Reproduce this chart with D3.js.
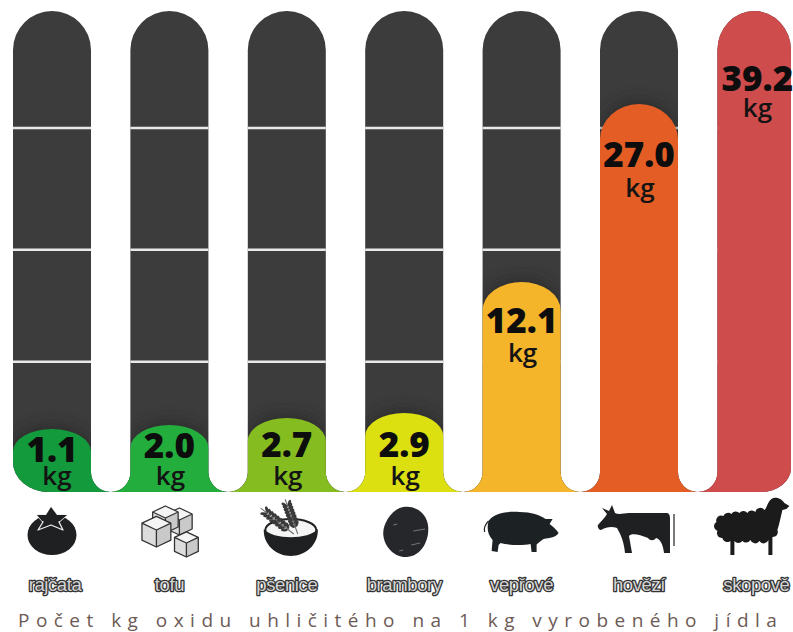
<!DOCTYPE html>
<html>
<head>
<meta charset="utf-8">
<script src="https://cdn.jsdelivr.net/npm/d3@7"></script>
<style>
html,body{margin:0;padding:0;background:#fff;}
svg{display:block;}
</style>
</head>
<body>
<svg id="chart" width="793" height="632"></svg>
<script>
// data
const foods = ['rajčata','tofu','pšenice','brambory','vepřové','hovězí','skopově'];
const values = [1.1,2.0,2.7,2.9,12.1,27.0,39.2];
const colors = ['#129a3c','#22ad3d','#85bc1f','#dce011','#f5b52b','#e35d25','#cf4c4d'];
const gridValues = [6.5,14.8,25];
const title = 'Počet kg oxidu uhličitého na 1 kg vyrobeného jídla';

// the original axis is not linear, stops read off the picture
const scaleStops = [0,1.1,2.0,2.7,2.9,12.1,27.0,39.2];
const scalePixels = [492,429,425,418,413,282,104,11];

// value label baselines, relative to top of each fill
const numDy = [33,33,39,44,51,63,80];
const kgDy = [56,60,67,72,80,93,106];

const plotL = 13, plotR = 791, plotB = 492, plotT = 11;
const svg = d3.select('#chart');
const y = d3.scaleLinear().domain(scaleStops).range(scalePixels);
const x = d3.scaleBand().domain(foods).range([plotL,plotL+7*117.4-39.4]).paddingInner(39.4/117.4);
const bw = x.bandwidth(), gapR = 19.7;

function barW(d){ return Math.min(bw, plotR-x(d)); }

// column with round top, feet flare into the neighbours
function colPath(i, topY, ry){
    let x0 = x(foods[i]), w = barW(foods[i]), x1 = x0+w, rx = w/2;
    let p = `M${x0},${topY+ry} A${rx},${ry} 0 0 1 ${x1},${topY+ry}`;
    if(i==foods.length-1) p += `L${x1},${plotB-24} A30,24 0 0 1 ${x1-30},${plotB}`;
    else p += `L${x1},${plotB-gapR} A${gapR},${gapR} 0 0 0 ${x1+gapR},${plotB}`;
    if(i==0) p += `L${x0+36},${plotB} A36,30 0 0 1 ${x0},${plotB-30}`;
    else p += `L${x0-gapR},${plotB} A${gapR},${gapR} 0 0 0 ${x0},${plotB-gapR}`;
    return p+'Z';
}

let defs = svg.append('defs');
defs.append('filter').attr('id','sh').attr('x','-30%').attr('y','-30%').attr('width','160%').attr('height','160%')
    .append('feGaussianBlur').attr('stdDeviation',7);

foods.forEach((f,i)=>{
    defs.append('clipPath').attr('id','c'+i).append('path').attr('d',colPath(i,plotT,39));
});

let cols = svg.append('g').selectAll('g').data(foods).join('g');
cols.append('path').attr('d',(d,i)=>colPath(i,plotT,39)).attr('fill','#3c3c3c');

// gridlines
cols.each(function(d){
    d3.select(this).selectAll('line').data(gridValues).join('line')
        .attr('x1',x(d)).attr('x2',x(d)+barW(d))
        .attr('y1',v=>y(v)).attr('y2',v=>y(v))
        .attr('stroke','#e9e9e9').attr('stroke-width',2.5);
});

function ryOf(v){ return Math.min(39, 20+(plotB-y(v))*0.04); }

// soft shadow above the fill, stays inside the dark column
cols.append('g').attr('clip-path',(d,i)=>`url(#c${i})`)
    .append('path')
    .attr('d',(d,i)=>colPath(i,y(values[i])-5,ryOf(values[i])))
    .attr('fill','#262626').attr('opacity',(d,i)=>i==6?0:0.6).attr('filter','url(#sh)');

cols.append('path')
    .attr('d',(d,i)=>colPath(i,y(values[i]),ryOf(values[i])))
    .attr('fill',(d,i)=>colors[i]);

// value labels
svg.append('g').selectAll('text').data(values).join('text')
    .attr('x',(d,i)=>x(foods[i])+bw/2-(i==6?-1:0))
    .attr('y',(d,i)=>y(d)+numDy[i])
    .attr('text-anchor','middle')
    .attr('font-family','Open Sans').attr('font-weight',800).attr('font-size',35)
    .attr('fill','#0d0d0d')
    .text(d=>d.toFixed(1));
svg.append('g').selectAll('text').data(values).join('text')
    .attr('x',(d,i)=>x(foods[i])+bw/2+(i==0?5:1))
    .attr('y',(d,i)=>y(d)+kgDy[i])
    .attr('text-anchor','middle')
    .attr('font-family','Open Sans').attr('font-weight',600).attr('font-size',26)
    .attr('fill','#141414')
    .text('kg');

// icons
const ink = '#1f2022';
let icons = svg.append('g').selectAll('g').data(foods).join('g')
    .attr('transform',d=>`translate(${x(d)+bw/2},530)`);

function tomato(g){
    g.append('ellipse').attr('cx',0).attr('cy',5).attr('rx',24.5).attr('ry',20).attr('fill',ink);
    g.append('path').attr('d','M-1,-23 L5,-15 L15,-15 L7,-8 L11,0 L-1,-5 L-14,0 L-9,-8 L-15,-15 L-6,-15Z')
        .attr('fill',ink).attr('stroke','#eee').attr('stroke-width',1.3).attr('stroke-linejoin','round');
    g.append('path').attr('d','M-1,-23 L5,-15 L15,-15 L8,-9 L-10,-9 L-15,-15 L-6,-15Z').attr('fill',ink);
}
function cube(g,cx,cy,s){
    let dx=s*0.85, dy=s*0.4;
    g.append('path').attr('d',`M${cx},${cy} L${cx+dx},${cy-dy} L${cx},${cy-2*dy} L${cx-dx},${cy-dy}Z`).attr('fill','#f4f4f4');
    g.append('path').attr('d',`M${cx},${cy} L${cx+dx},${cy-dy} L${cx+dx},${cy-dy+s} L${cx},${cy+s}Z`).attr('fill','#c9c9c9');
    g.append('path').attr('d',`M${cx},${cy} L${cx-dx},${cy-dy} L${cx-dx},${cy-dy+s} L${cx},${cy+s}Z`).attr('fill','#dcdcdc');
    g.append('path').attr('d',`M${cx},${cy} L${cx+dx},${cy-dy} L${cx},${cy-2*dy} L${cx-dx},${cy-dy}Z M${cx},${cy} V${cy+s} M${cx-dx},${cy-dy} V${cy-dy+s} L${cx},${cy+s} L${cx+dx},${cy-dy+s} V${cy-dy}`)
        .attr('fill','none').attr('stroke','#333').attr('stroke-width',1.3).attr('stroke-linejoin','round');
}
function tofu(g){
    cube(g,10,-10,15);
    cube(g,-4,-12,15);
    cube(g,-13,0,17);
    cube(g,17,13,14);
}
function wheat(g,x0,y0,ang,len){
    let s = g.append('g').attr('transform',`translate(${x0},${y0}) rotate(${ang})`);
    s.append('line').attr('x1',0).attr('y1',0).attr('x2',0).attr('y2',-len).attr('stroke','#666').attr('stroke-width',1);
    d3.range(8).forEach(k=>{
        let cy = -10-k*(len-12)/8;
        [-1,1].forEach(sd=>{
            s.append('ellipse').attr('cx',sd*2.6).attr('cy',cy).attr('rx',1.5).attr('ry',3.4)
             .attr('transform',`rotate(${sd*35} ${sd*2.6} ${cy})`).attr('fill','#3a3a3a');
        });
    });
}
function bowl(g){
    g.attr('transform',`translate(${x('pšenice')+bw/2+4},533)`);
    g.append('ellipse').attr('cx',0).attr('cy',-3).attr('rx',25.5).attr('ry',11).attr('fill','#f4f4f4').attr('stroke','#222').attr('stroke-width',2);
    wheat(g,3,1,-52,42);
    wheat(g,7,1,-20,37);
    g.append('path').attr('d','M-27,-4 C-18,7 18,7 27,-4 C28,12 14,23 0,23 C-14,23 -28,12 -27,-4Z').attr('fill',ink);
}
function potato(g){
    g.append('path').attr('d','M-1,-23 C11,-25 23,-17 24,-3 C25,11 17,26 3,27 C-11,28 -21,15 -21,3 C-21,-7 -12,-21 -1,-23Z').attr('fill','#26272a');
    g.append('path').attr('d','M9,1 L21,-1 M7,15 L16,13 M-11,-5 L-7,-6 M-5,21 L-1,20').attr('stroke','#8a8a8a').attr('stroke-width',0.8);
}
function pig(g){
    g.append('path').attr('d','M-33,-9 C-28,-17 -14,-19 -2,-18 C10,-18 18,-15 24,-11 L31,-11 L28,-6 C32,-3 35,0 37,3 C35,7 28,8 22,9 C18,12 15,14 15,15 L15,22 L10,22 L9,14 C0,16 -14,15 -21,13 L-23,15 L-24,22 L-30,21 L-29,10 C-34,4 -35,-2 -33,-9Z').attr('fill','#1c2124');
    g.append('path').attr('d','M-33,-9 C-36,-6 -38,-2 -37,2').attr('fill','none').attr('stroke','#1c2124').attr('stroke-width',1.2);
}
function cow(g){
    g.append('path').attr('d','M-41,-5 C-38,-9 -34,-12 -32,-16 L-37,-22 L-30,-19 L-27,-25 L-24,-17 C-20,-15 -15,-17 -10,-17 L27,-17 C30,-17 31,-15 31,-12 L31,23 L25,23 C24,14 21,9 17,8 C15,11 11,11 9,8 C0,4 -8,3 -10,6 L-7,23 L-14,23 C-15,12 -18,5 -22,-2 C-27,-4 -33,-3 -38,0 C-40,0 -42,-3 -41,-5Z').attr('fill',ink);
    g.append('path').attr('d','M35,-16 V16').attr('stroke',ink).attr('stroke-width',1.2);
}
function sheep(g){
    g.append('path').attr('transform','translate(-3,0)').attr('d','M-37,-8 a5,5 0 0 1 7,-6 a5,5 0 0 1 8,-2 a5,5 0 0 1 8,-1 a5,5 0 0 1 8,0 a5,5 0 0 1 8,-1 a5,5 0 0 1 9,-2 C14,-22 14,-30 20,-32 C25,-33 29,-30 31,-27 L36,-24 L33,-21 L29,-20 C27,-12 26,-6 24,0 a5,5 0 0 1 -5,7 L19,25 L15,25 L15,10 a5,5 0 0 1 -9,1 a5,5 0 0 1 -9,-1 a5,5 0 0 1 -8,1 a5,5 0 0 1 -8,0 L-19,25 L-23,25 L-23,11 a5,5 0 0 1 -8,-3 a5,5 0 0 1 -5,-7 a5,5 0 0 1 -1,-9Z').attr('fill','#1b1b1c');
}
const iconFns = [tomato,tofu,bowl,potato,pig,cow,sheep];
icons.each(function(d,i){ iconFns[i](d3.select(this)); });

// category labels, thick dark outline behind a light letter
svg.append('g').selectAll('text').data(foods).join('text')
    .attr('x',d=>x(d)+bw/2+(d=='rajčata'?3:0))
    .attr('y',591)
    .attr('text-anchor','middle')
    .attr('font-family','Liberation Sans').attr('font-size',18.5)
    .attr('letter-spacing',-0.4)
    .attr('paint-order','stroke')
    .attr('fill','#d4d4d4').attr('stroke','#333').attr('stroke-width',2.6).attr('stroke-linejoin','round')
    .text(d=>d);

// bottom title
svg.append('text').attr('x',18).attr('y',627)
    .attr('font-family','Open Sans').attr('font-size',19)
    .attr('letter-spacing',6.47)
    .attr('fill','#6d5a55')
    .text(title);
</script>
</body>
</html>
